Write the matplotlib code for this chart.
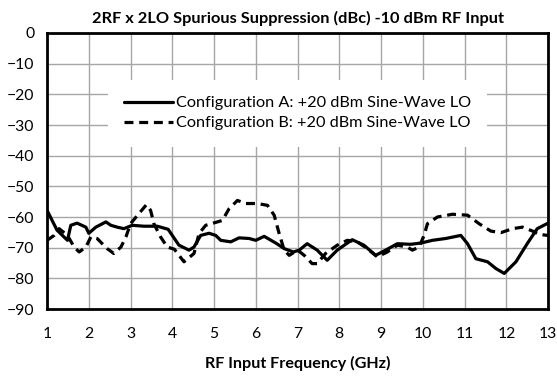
import matplotlib
matplotlib.use("Agg")
import matplotlib.pyplot as plt

# RF input frequency (GHz) and 2RF x 2LO spur level (dBc)
freq_a = [1.00, 1.24, 1.49, 1.57, 1.72, 1.93, 2.00, 2.17, 2.41, 2.53, 2.68, 2.84,
          3.04, 3.32, 3.64, 3.90, 4.16, 4.40, 4.52, 4.68, 4.88, 5.04, 5.16, 5.40,
          5.60, 5.84, 6.00, 6.20, 6.48, 6.68, 6.90, 7.04, 7.23, 7.47, 7.71, 7.95,
          8.31, 8.59, 8.87, 9.11, 9.39, 9.71, 9.95, 10.23, 10.55, 10.91, 11.07,
          11.27, 11.55, 11.75, 11.95, 12.23, 12.50, 12.74, 13.00]
spur_a = [-57.8, -64.3, -67.6, -62.7, -62.0, -63.3, -65.3, -63.3, -61.6, -62.7, -63.3, -63.8,
          -62.7, -63.0, -63.0, -64.0, -69.2, -70.8, -69.8, -66.0, -65.3, -66.0, -67.6, -68.1,
          -66.8, -67.0, -67.6, -66.3, -68.5, -70.3, -71.4, -70.8, -68.7, -70.8, -74.1, -70.8,
          -67.4, -69.2, -72.5, -70.8, -68.7, -68.9, -68.5, -67.6, -67.0, -66.0, -68.7,
          -73.6, -74.6, -76.8, -78.4, -74.6, -68.7, -63.8, -62.0]

freq_b = [1.00, 1.17, 1.29, 1.49, 1.65, 1.77, 1.93, 2.05, 2.20, 2.44, 2.60, 2.77,
          2.89, 3.00, 3.20, 3.38, 3.48, 3.56, 3.72, 3.88, 4.05, 4.28, 4.52, 4.64,
          4.80, 5.08, 5.20, 5.36, 5.56, 5.76, 6.04, 6.28, 6.44, 6.56, 6.68, 6.80,
          7.00, 7.16, 7.35, 7.47, 7.67, 7.95, 8.19, 8.43, 8.67, 8.91, 9.15, 9.39,
          9.63, 9.75, 9.91, 10.03, 10.11, 10.35, 10.71, 11.07, 11.35, 11.63, 11.87,
          12.15, 12.39, 12.63, 12.79, 13.00]
spur_b = [-67.6, -66.0, -63.8, -66.0, -69.8, -71.4, -69.8, -66.5, -67.0, -70.3, -71.9, -69.8,
          -66.5, -62.2, -58.9, -56.0, -57.8, -62.2, -66.5, -69.8, -70.5, -74.6, -71.9, -65.4,
          -62.7, -61.6, -61.1, -57.3, -54.6, -55.6, -55.6, -56.2, -59.4, -65.4, -70.8, -72.5,
          -70.8, -72.5, -75.2, -75.2, -71.9, -69.2, -67.6, -68.1, -70.3, -73.0, -71.4, -69.2,
          -69.8, -70.8, -69.8, -66.0, -62.2, -60.0, -59.1, -59.4, -62.2, -64.6, -65.1,
          -63.8, -63.3, -64.6, -65.7, -66.0]

x_ticks = list(range(1, 14))
y_ticks = list(range(-90, 1, 10))

title = "2RF x 2LO Spurious Suppression (dBc) -10 dBm RF Input"
xlabel = "RF Input Frequency (GHz)"
label_a = "Configuration A: +20 dBm Sine-Wave LO"
label_b = "Configuration B: +20 dBm Sine-Wave LO"

plt.rcParams["font.family"] = ["Lato", "DejaVu Sans"]

fig = plt.figure(figsize=(5.57, 3.78), dpi=100)
ax = fig.add_axes([0.0844, 0.1825, 0.8996, 0.7302])

ax.plot(freq_a, spur_a, color="black", lw=2.3, solid_capstyle="round",
        solid_joinstyle="round", label=label_a)
ax.plot(freq_b, spur_b, color="black", lw=2.3, linestyle=(0, (2.8, 1.8)),
        dash_capstyle="butt", label=label_b)

ax.set_xlim(1, 13)
ax.set_ylim(-90, 0)
ax.set_xticks(x_ticks)
ax.set_yticks(y_ticks)
ax.tick_params(length=0, labelsize=11.3, colors="black")
ax.tick_params(axis="x", pad=13)
ax.tick_params(axis="y", pad=9)
ax.grid(True, color="#a6a6a6", lw=1.0)
ax.set_axisbelow(True)
for s in ax.spines.values():
    s.set_linewidth(2.0)
    s.set_color("black")

ax.set_title(title, fontsize=11.8, fontweight="bold", pad=7)
ax.set_xlabel(xlabel, fontsize=11.6, fontweight="bold", labelpad=11)

leg = ax.legend(loc="upper center", bbox_to_anchor=(0.5, 0.86), fontsize=11.7,
                frameon=True, fancybox=False, edgecolor="none", facecolor="white",
                framealpha=1.0, handlelength=3.0, handletextpad=0.2,
                labelspacing=0.35, borderpad=1.0)

fig.savefig("out.png", dpi=100)
